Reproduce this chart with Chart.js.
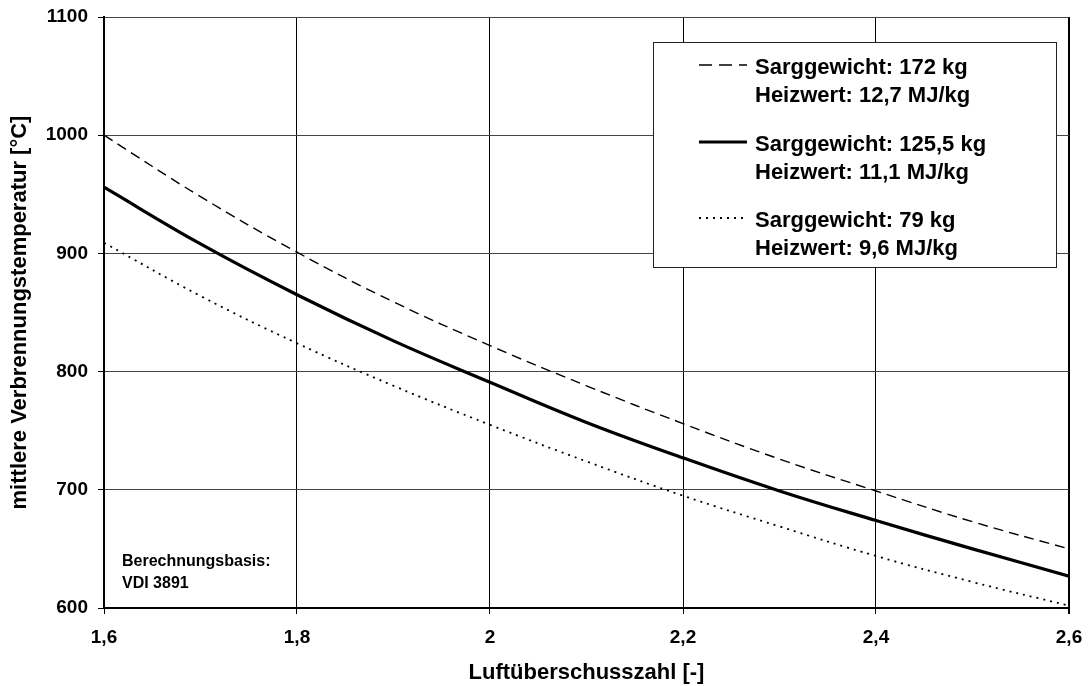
<!DOCTYPE html>
<html>
<head>
<meta charset="utf-8">
<script src="https://cdn.jsdelivr.net/npm/chart.js@4.4.0/dist/chart.umd.min.js"></script>
<style>
  html, body { margin: 0; padding: 0; background: #fff; }
  #wrap { width: 1088px; height: 686px; position: relative; }
</style>
</head>
<body>
<div id="wrap"><canvas id="myChart"></canvas></div>
<script>
// Luftüberschusszahl (x values)
const lambdaValues = [1.6, 1.7, 1.8, 1.9, 2.0, 2.1, 2.2, 2.3, 2.4, 2.5, 2.6];

// mittlere Verbrennungstemperatur
const temp172 = [1000, 948, 901, 859, 822, 788, 756, 726, 699, 673, 650];
const temp125 = [956, 908, 865, 826, 791, 757, 727, 699, 674, 650, 627];
const temp79 = [909, 864, 824, 788, 755, 724, 695, 669, 644, 622, 602];

const labels172 = ['Sarggewicht: 172 kg', 'Heizwert: 12,7 MJ/kg'];
const labels125 = ['Sarggewicht: 125,5 kg', 'Heizwert: 11,1 MJ/kg'];
const labels79 = ['Sarggewicht: 79 kg', 'Heizwert: 9,6 MJ/kg'];

const noteLines = ['Berechnungsbasis:', 'VDI 3891'];

const FONT = 'Arial, "Liberation Sans", Helvetica, sans-serif';

function toPoints(ys) {
  return lambdaValues.map((x, i) => ({ x: x, y: ys[i] }));
}

function germanNum(v) {
  return String(Number(v.toFixed(1))).replace('.', ',');
}

// legend box + note, drawn by hand because labels have two lines
const boxLegend = {
  id: 'boxLegend',
  afterDraw(chart) {
    const ctx = chart.ctx;
    ctx.save();
    // box
    ctx.fillStyle = '#fff';
    ctx.fillRect(653, 42, 403, 225);
    ctx.strokeStyle = '#222';
    ctx.lineWidth = 1;
    ctx.strokeRect(653.5, 42.5, 403, 225);

    const rows = [68, 145, 221];
    const legendDash = [[13, 7], [], [2, 5]];
    chart.data.datasets.forEach((ds, i) => {
      const y = rows[i];
      ctx.strokeStyle = '#000';
      ctx.lineWidth = ds.borderWidth;
      ctx.setLineDash(legendDash[i]);
      ctx.beginPath();
      ctx.moveTo(699, y - 3);
      ctx.lineTo(747, y - 3);
      ctx.stroke();
      ctx.setLineDash([]);
      ctx.fillStyle = '#000';
      ctx.font = 'bold 22px ' + FONT;
      ctx.textBaseline = 'middle';
      ctx.textAlign = 'left';
      ctx.fillText(ds.label[0], 755, y);
      ctx.fillText(ds.label[1], 755, y + 28);
    });

    // note
    ctx.font = 'bold 16px ' + FONT;
    ctx.fillStyle = '#000';
    ctx.textBaseline = 'middle';
    ctx.fillText(noteLines[0], 122, 562);
    ctx.fillText(noteLines[1], 122, 584);
    ctx.restore();
  }
};

const ctx = document.getElementById('myChart').getContext('2d');
const myChart = new Chart(ctx, {
  type: 'line',
  data: {
    datasets: [
      {
        label: labels172,
        data: toPoints(temp172),
        borderColor: '#000',
        borderWidth: 1.4,
        borderDash: [10, 6],
        pointRadius: 0,
        tension: 0.4,
        fill: false
      },
      {
        label: labels125,
        data: toPoints(temp125),
        borderColor: '#000',
        borderWidth: 3.2,
        pointRadius: 0,
        tension: 0.4,
        fill: false
      },
      {
        label: labels79,
        data: toPoints(temp79),
        borderColor: '#000',
        borderWidth: 1.8,
        borderDash: [2, 5],
        pointRadius: 0,
        tension: 0.4,
        fill: false
      }
    ]
  },
  options: {
    responsive: true,
    maintainAspectRatio: false,
    animation: false,
    layout: { padding: { left: 0, right: 19, top: 17, bottom: 0 } },
    plugins: {
      legend: { display: false },
      tooltip: { enabled: false }
    },
    scales: {
      x: {
        type: 'linear',
        min: 1.6,
        max: 2.6,
        afterFit(scale) {
          scale.height = 78;
          scale.paddingLeft = 0;
          scale.paddingRight = 0;
        },
        ticks: {
          stepSize: 0.2,
          padding: 12,
          color: '#000',
          font: { family: FONT, size: 19, weight: 'bold' },
          callback: (v) => germanNum(v)
        },
        grid: {
          color: '#000',
          lineWidth: (c) => (c.index === 5 ? 2 : 1),
          tickLength: 6,
          tickColor: '#000'
        },
        border: { color: '#000', width: 2 },
        title: {
          display: true,
          text: 'Luftüberschusszahl [-]',
          color: '#000',
          font: { family: FONT, size: 22, weight: 'bold' },
          padding: { top: 0, bottom: 0 }
        }
      },
      y: {
        min: 600,
        max: 1100,
        afterFit(scale) {
          scale.width = 104;
          scale.paddingTop = 0;
          scale.paddingBottom = 0;
        },
        ticks: {
          stepSize: 100,
          padding: 10,
          color: '#000',
          font: { family: FONT, size: 19, weight: 'bold' },
          callback: (v) => String(v)
        },
        grid: { color: '#444', lineWidth: 1, tickLength: 6, tickColor: '#000' },
        border: { color: '#000', width: 2 },
        title: {
          display: true,
          text: 'mittlere Verbrennungstemperatur [°C]',
          color: '#000',
          font: { family: FONT, size: 22, weight: 'bold' },
          padding: { top: 7, bottom: 0 }
        }
      }
    }
  },
  plugins: [boxLegend]
});
</script>
</body>
</html>
